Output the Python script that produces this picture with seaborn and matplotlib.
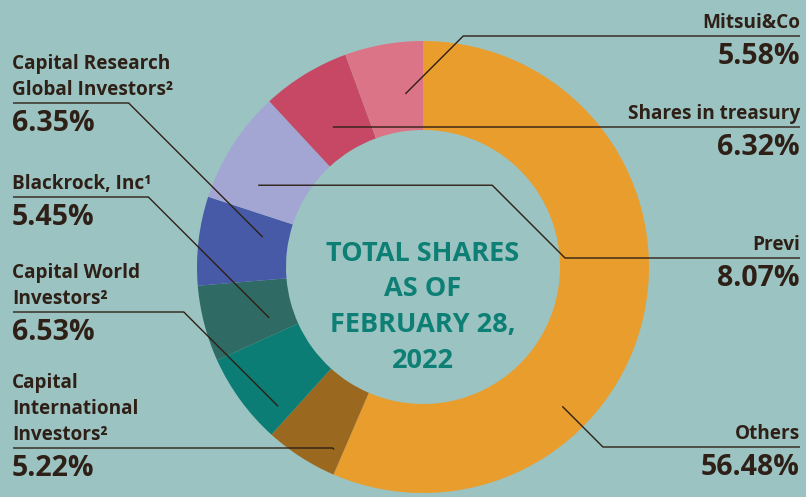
import numpy as np
import seaborn as sns
import matplotlib.pyplot as plt

# shareholders, in the order they go round the ring (clockwise from 12 o'clock)
holders = ["Others", "Capital\nInternational\nInvestors²", "Capital World\nInvestors²",
           "Blackrock, Inc¹", "Capital Research\nGlobal Investors²", "Previ",
           "Shares in treasury", "Mitsui&Co"]
shares = [56.48, 5.22, 6.53, 5.45, 6.35, 8.07, 6.32, 5.58]
center_title = ["TOTAL SHARES", "AS OF", "FEBRUARY 28,", "2022"]

bg = "#9bc3c2"
ink = "#2e2016"
title_col = "#0e7f74"
colors = sns.color_palette(["#e99d2c", "#9b681f", "#0b7d74", "#2f6a64",
                            "#465aa8", "#a3a6d3", "#c64864", "#dc7487"])

# label layout: side, underline y, where the leader hits the wedge (fraction, radius), extra elbow x
layout = [
    ("right", 447, 0.664, 197, None),
    ("left", 448, 0.14, 203, None),
    ("left", 312, 0.17, 201, None),
    ("left", 197, 0.31, 162, None),
    ("left", 103, 0.67, 163, None),
    ("right", 258, 0.285, 184, 565),
    ("right", 127, 0.44, 166, None),
    ("right", 36, 0.71, 174, None),
]

sns.set_theme(style="white")
plt.rcParams["font.family"] = ["Open Sans", "DejaVu Sans"]

W, H = 806, 497
cx, cy, R = 423, 267, 226

fig = plt.figure(figsize=(W / 100, H / 100), dpi=100)
fig.patch.set_facecolor(bg)
ax = fig.add_axes([0, 0, 1, 1])
ax.set_facecolor(bg)

# y axis points down, so counterclock in data space is clockwise on screen
wedges, _ = ax.pie(shares, colors=colors, startangle=-90, counterclock=True,
                   radius=R, center=(cx, cy),
                   wedgeprops=dict(width=89, linewidth=0))
ax.set_xlim(0, W)
ax.set_ylim(H, 0)
ax.axis("off")

for w, name, pct, (side, uy, frac, r, ex) in zip(wedges, holders, shares, layout):
    th = np.deg2rad(w.theta1 + frac * (w.theta2 - w.theta1))
    axp, ayp = cx + r * np.cos(th), cy + r * np.sin(th)
    d = abs(uy - ayp)
    if side == "left":
        tx, ha = 12, "left"
        ex_ = axp - d
        xs, ys = [13, ex_, axp], [uy, uy, ayp]
    else:
        tx, ha = 800, "right"
        if ex is None:
            ex_ = axp + d
            xs, ys = [800, ex_, axp], [uy, uy, ayp]
        else:
            xs, ys = [800, ex, ex - d, axp], [uy, uy, ayp, ayp]
    ax.plot(xs, ys, color=ink, lw=1.0, solid_capstyle="butt")

    lines = name.split("\n")
    for i, ln in enumerate(lines):
        ax.text(tx, uy - 8 - (len(lines) - 1 - i) * 26, ln, ha=ha, va="baseline",
                fontsize=13.7, fontweight="bold", color=ink)
    ax.text(tx, uy + 28, f"{pct:.2f}%", ha=ha, va="baseline",
            fontsize=20.5, fontweight="bold", color=ink)

for i, ln in enumerate(center_title):
    ax.text(cx, 261 + i * 35.5, ln, ha="center", va="baseline",
            fontsize=19.5, fontweight="bold", color=title_col)

fig.savefig("out.png", dpi=100, facecolor=bg)
